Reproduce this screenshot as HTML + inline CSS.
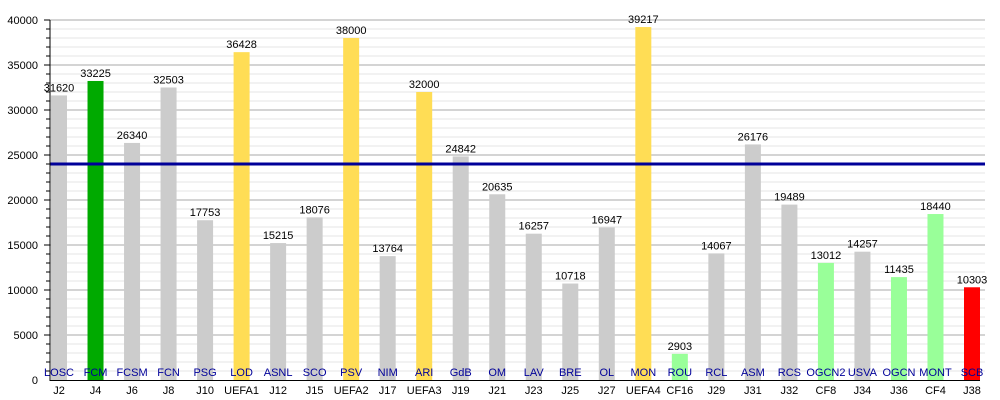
<!DOCTYPE html>
<html><head><meta charset="utf-8"><style>body{margin:0;background:#fff}svg{display:block;font-family:"Liberation Sans",sans-serif}</style></head><body>
<svg width="1000" height="400" id="s"></svg>
<script>
const d=[["J2","LOSC",31620,"#cccccc"],["J4","FCM",33225,"#00aa00"],["J6","FCSM",26340,"#cccccc"],["J8","FCN",32503,"#cccccc"],["J10","PSG",17753,"#cccccc"],["UEFA1","LOD",36428,"#ffdd55"],["J12","ASNL",15215,"#cccccc"],["J15","SCO",18076,"#cccccc"],["UEFA2","PSV",38000,"#ffdd55"],["J17","NIM",13764,"#cccccc"],["UEFA3","ARI",32000,"#ffdd55"],["J19","GdB",24842,"#cccccc"],["J21","OM",20635,"#cccccc"],["J23","LAV",16257,"#cccccc"],["J25","BRE",10718,"#cccccc"],["J27","OL",16947,"#cccccc"],["UEFA4","MON",39217,"#ffdd55"],["CF16","ROU",2903,"#99ff99"],["J29","RCL",14067,"#cccccc"],["J31","ASM",26176,"#cccccc"],["J32","RCS",19489,"#cccccc"],["CF8","OGCN2",13012,"#99ff99"],["J34","USVA",14257,"#cccccc"],["J36","OGCN",11435,"#99ff99"],["CF4","MONT",18440,"#99ff99"],["J38","SCB",10303,"#ff0000"]];
let h='';const Y=v=>380-v*0.009;
for(let v=1000;v<=40000;v+=1000){const y=Y(v);const maj=v%5000==0;h+=`<line x1="50" x2="985" y1="${y}" y2="${y}" stroke="${maj?'#aaaaaa':'#e4e4e4'}" stroke-width="1"/><line x1="${maj?44:46}" x2="50" y1="${y}" y2="${y}" stroke="#000"/>`;if(maj)h+=`<text x="38" y="${y+4}" font-size="11" text-anchor="end">${v}</text>`;}
h+=`<text x="38" y="384" font-size="11" text-anchor="end">0</text>`;
d.forEach((b,i)=>{const x=51+36.52*i,c=x+8,y=Y(b[2]);h+=`<rect x="${x}" y="${y}" width="16" height="${380-y}" fill="${b[3]}"/><text x="${c}" y="${y-4}" font-size="11" text-anchor="middle">${b[2]}</text><text x="${c}" y="376" font-size="11" text-anchor="middle" fill="#000099">${b[1]}</text><text x="${c}" y="394" font-size="11" text-anchor="middle">${b[0]}</text>`;});
h+=`<line x1="50" x2="985" y1="164" y2="164" stroke="#000099" stroke-width="3"/><line x1="50" x2="50" y1="20" y2="381" stroke="#000"/><line x1="50" x2="980" y1="380.5" y2="380.5" stroke="#000"/>`;
document.getElementById('s').innerHTML=h;
</script>
</body></html>
